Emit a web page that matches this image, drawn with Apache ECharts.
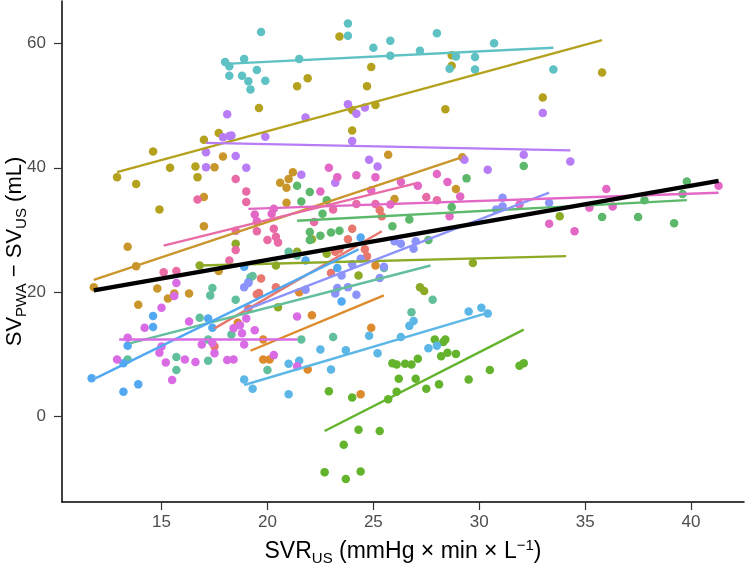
<!DOCTYPE html>
<html>
<head>
<meta charset="utf-8">
<script src="https://cdn.jsdelivr.net/npm/echarts@6/dist/echarts.min.js"></script>
<style>
  html, body { margin: 0; padding: 0; background: #fff; }
  #chart { width: 750px; height: 567px; }
</style>
</head>
<body>
<div id="chart"></div>
<script>
// points per subject, [SVR_US, SV_PWA - SV_US]
const cyanPts = [[18.0,57.0],[18.2,56.3],[18.9,57.5],[18.2,54.8],[18.8,54.8],[19.1,53.9],[19.2,52.6],[19.7,61.8],[21.5,57.5],[19.5,55.7],[19.9,54.0],[23.8,63.2],[23.8,61.2],[25.0,59.3],[25.8,60.4],[25.8,58.0],[27.2,58.8],[28.0,61.6],[28.6,55.9],[28.9,57.9],[29.8,57.8],[29.8,55.8],[30.7,60.0],[33.5,55.8]];
const olivePts = [[12.9,38.5],[13.8,37.4],[14.6,42.6],[15.4,40.0],[14.9,33.3],[16.6,40.2],[16.7,38.5],[17.0,44.5],[17.7,45.6],[19.6,49.6],[21.4,53.1],[21.9,54.4],[23.4,61.1],[24.0,46.0],[24.0,49.3],[24.9,56.2],[24.7,53.1],[25.1,50.1],[28.7,58.1],[28.7,56.4],[28.4,49.4],[33.0,51.3],[35.8,55.3]];
const purplePts = [[18.1,48.6],[17.9,44.9],[18.2,45.1],[18.3,45.2],[17.1,42.5],[18.5,41.9],[17.1,40.1],[19.0,40.0],[19.9,45.0],[21.8,48.1],[21.6,38.9],[23.8,50.2],[24.2,48.7],[24.6,49.7],[24.0,44.3],[23.2,37.6],[24.8,41.3],[25.2,40.2],[29.3,41.3],[30.4,39.7],[32.1,42.1],[33.0,48.8],[34.3,41.0]];
const goldPts = [[17.9,41.8],[17.5,40.1],[17.0,35.3],[17.0,30.6],[13.4,27.3],[13.8,24.2],[14.8,20.6],[17.7,23.4],[16.3,19.8],[15.3,19.0],[11.8,20.8],[13.9,18.0],[15.6,19.8],[20.6,37.6],[20.9,36.8],[21.0,38.2],[21.2,39.3],[20.9,34.4],[25.7,42.1],[26.0,35.0],[29.2,41.7],[28.9,36.6]];
const pinkPts = [[18.5,38.2],[19.0,36.2],[16.7,34.9],[19.0,34.5],[18.5,26.8],[18.2,25.1],[15.1,23.2],[15.7,23.4],[18.5,29.9],[20.3,30.2],[19.5,29.8],[20.4,28.9],[20.0,28.4],[20.5,28.0],[22.2,31.3],[23.1,33.3],[24.2,34.2],[25.1,34.2],[27.5,35.3],[28.0,34.8]];
const rosePts = [[19.4,32.5],[19.5,31.4],[20.3,33.4],[20.2,32.6],[22.9,40.0],[23.3,38.5],[24.2,38.8],[25.1,38.5],[22.5,36.2],[26.3,37.7],[27.1,37.1],[28.0,39.0],[28.5,37.7],[29.1,35.4],[28.6,32.2],[24.9,36.4],[25.8,34.1],[36.0,36.6],[36.3,33.8],[35.2,33.6],[33.3,31.0],[34.5,29.8],[41.3,37.1],[31.9,34.1]];
const greenPts = [[21.4,37.1],[22.0,36.1],[21.6,34.6],[22.8,34.8],[22.6,32.6],[22.0,29.7],[22.5,29.1],[23.0,29.6],[23.4,29.9],[22.0,28.4],[25.9,30.6],[26.7,31.7],[28.7,33.7],[29.4,38.3],[27.6,28.4],[32.1,40.3],[39.6,35.8],[39.8,37.8],[37.8,34.8],[35.8,32.1],[37.5,32.1],[39.2,31.1]];
const limePts = [[16.8,24.3],[18.5,27.8],[22.1,28.5],[20.4,24.3],[22.8,26.2],[24.3,22.7],[21.4,26.5],[20.5,17.6],[27.2,20.8],[27.4,20.2],[29.7,24.7],[33.8,32.2]];
const bluePts = [[11.7,6.2],[13.2,4.0],[13.9,5.2],[13.4,11.4],[14.6,16.2],[14.6,14.4],[17.2,15.8],[17.4,14.3],[18.9,24.1],[13.2,8.6],[21.8,25.1],[23.3,23.9],[19.1,21.6],[23.5,18.5],[24.4,28.8]];
const skyPts = [[18.9,6.0],[19.3,4.5],[21.0,3.6],[21.0,8.5],[21.5,9.0],[22.5,10.8],[23.0,7.6],[23.7,10.7],[24.8,13.0],[25.2,10.2],[26.3,12.8],[26.7,14.6],[26.9,15.4],[27.6,11.0],[28.0,11.4],[29.5,16.9],[30.1,17.5],[30.4,16.6]];
const periPts = [[18.9,20.8],[19.1,21.5],[21.8,20.4],[23.3,20.7],[23.2,19.8],[23.8,20.8],[24.2,19.6],[23.5,22.7],[24.0,24.5],[24.4,25.4],[25.5,24.1],[25.3,22.3],[26.0,28.2],[26.3,27.8],[27.0,28.2],[26.9,27.0],[31.1,35.2],[31.1,33.8],[30.8,33.3],[33.3,34.4]];
const tealPts = [[15.7,9.6],[15.7,7.5],[17.3,19.5],[16.8,15.9],[18.5,18.8],[17.2,9.0],[13.4,9.2],[17.2,12.4],[18.3,13.2],[17.4,20.7],[19.2,22.4],[21.0,26.5],[21.4,25.9],[19.3,22.6],[25.5,23.9],[26.8,16.8],[27.8,18.8],[20.0,7.5],[21.6,12.4],[23.1,12.8]];
const salmonPts = [[23.8,28.5],[24.0,30.2],[24.6,26.9],[24.7,25.8],[25.3,33.2],[25.4,32.2],[23.0,23.1],[19.7,22.2],[20.4,20.8],[23.2,26.5],[23.4,26.9],[19.6,19.9],[19.1,17.4],[19.5,19.7],[17.5,11.3]];
const orangePts = [[22.1,16.3],[19.8,12.4],[19.8,9.2],[20.1,9.2],[21.9,7.6],[24.9,14.3],[24.4,3.6],[25.1,24.3],[18.6,15.1],[21.5,20.0]];
const magentaPts = [[15.6,19.4],[15.0,17.5],[14.2,14.3],[13.4,12.7],[12.9,9.2],[14.9,10.3],[15.0,11.3],[15.2,8.7],[15.5,5.9],[16.1,9.2],[16.6,8.8],[16.3,15.3],[16.9,11.6],[17.4,11.9],[17.5,10.2],[18.1,9.1],[18.4,9.2],[18.4,14.2],[18.7,14.7],[18.8,13.4],[18.9,11.6],[19.0,15.8],[19.4,13.9],[15.7,21.5],[21.4,16.1],[20.3,9.9],[21.4,8.1]];
const grassPts = [[22.9,4.1],[24.0,3.1],[24.3,-2.1],[23.6,-4.5],[25.3,-2.3],[22.7,-8.9],[23.7,-10.0],[24.4,-8.8],[25.9,8.6],[26.1,8.4],[26.5,8.5],[26.8,8.4],[27.1,9.3],[26.2,6.1],[26.1,4.0],[25.7,2.8],[27.0,6.1],[27.5,4.5],[28.1,5.2],[27.9,12.4],[28.3,12.0],[28.4,12.4],[28.2,9.7],[28.5,10.3],[28.9,10.1],[29.5,6.0],[30.5,7.5],[31.9,8.2],[32.1,8.6]];

// fitted lines per subject, [x1, y1, x2, y2]
const cyanFit = [18.0,56.7,33.5,59.3];
const oliveFit = [12.9,39.3,35.8,60.5];
const purpleFit = [17.1,44.0,34.3,42.8];
const goldFit = [11.8,22.0,29.2,41.7];
const pinkFit = [15.1,27.5,27.0,37.5];
const roseFit = [19.1,33.4,41.3,36.0];
const greenFit = [21.4,31.5,39.8,34.8];
const limeFit = [16.8,24.3,34.1,25.8];
const blueFit = [11.9,6.2,24.3,26.9];
const skyFit = [18.9,5.1,30.4,16.7];
const periFit = [18.9,17.1,33.3,36.0];
const tealFit = [13.5,11.8,27.7,24.3];
const salmonFit = [17.5,14.2,25.4,29.8];
const orangeFit = [19.2,10.6,25.5,19.5];
const magentaFit = [13.0,12.4,21.4,12.4];
const grassFit = [22.7,-2.3,32.1,14.0];
const overallFit = [11.8,20.3,41.3,37.9];

const xTicks = [15, 20, 25, 30, 35, 40];
const yTicks = [0, 20, 40, 60];

const subjects = [
  { pts: salmonPts, fit: salmonFit, color: '#E8776D' },
  { pts: orangePts, fit: orangeFit, color: '#DC8A2C' },
  { pts: goldPts, fit: goldFit, color: '#C9962B' },
  { pts: olivePts, fit: oliveFit, color: '#B4A21F' },
  { pts: limePts, fit: limeFit, color: '#8DAA26' },
  { pts: grassPts, fit: grassFit, color: '#63B42C' },
  { pts: greenPts, fit: greenFit, color: '#5CB96B' },
  { pts: tealPts, fit: tealFit, color: '#62BF9B' },
  { pts: cyanPts, fit: cyanFit, color: '#5EC1C3' },
  { pts: skyPts, fit: skyFit, color: '#5CB7E6' },
  { pts: bluePts, fit: blueFit, color: '#52A9F2' },
  { pts: periPts, fit: periFit, color: '#8C93FA' },
  { pts: purplePts, fit: purpleFit, color: '#B77CF6' },
  { pts: magentaPts, fit: magentaFit, color: '#D96CE4' },
  { pts: rosePts, fit: roseFit, color: '#E368C6' },
  { pts: pinkPts, fit: pinkFit, color: '#E86BA6' }
];

const font = 'Liberation Sans, Arial, sans-serif';

let series = [];
// points first (like geom_point), then the fitted lines on top
subjects.forEach(s => {
  series.push({
    type: 'scatter',
    data: s.pts,
    symbolSize: 8.5,
    itemStyle: { color: s.color, opacity: 1 },
    z: 2
  });
});
subjects.forEach(s => {
  series.push({
    type: 'line',
    data: [[s.fit[0], s.fit[1]], [s.fit[2], s.fit[3]]],
    showSymbol: false,
    lineStyle: { color: s.color, width: 2.4 },
    z: 3
  });
});
series.push({
  type: 'line',
  data: [[overallFit[0], overallFit[1]], [overallFit[2], overallFit[3]]],
  showSymbol: false,
  lineStyle: { color: '#000', width: 4.5 },
  z: 4
});

let chart = echarts.init(document.getElementById('chart'));

let option = {
  animation: false,
  grid: { left: 62, right: 6, top: 1, bottom: 65, containLabel: false, outerBoundsMode: 'none' },
  xAxis: {
    type: 'value',
    min: 10.3,
    max: 42.5,
    name: '{a|SVR}{sub|US}{a| (mmHg × min × L}{sup|−1}{a|)}',
    nameLocation: 'middle',
    nameGap: 36,
    nameMoveOverlap: false,
    nameTextStyle: {
      rich: {
        a: { fontFamily: font, fontSize: 23, color: '#000', lineHeight: 28 },
        sub: { fontFamily: font, fontSize: 15, color: '#000', verticalAlign: 'bottom', lineHeight: 15 },
        sup: { fontFamily: font, fontSize: 15, color: '#000', verticalAlign: 'top', lineHeight: 15 }
      }
    },
    axisLine: { show: true, onZero: false, lineStyle: { color: '#000', width: 1.5 } },
    axisTick: { show: true, length: 8, customValues: xTicks, lineStyle: { color: '#333', width: 1.2 } },
    axisLabel: { customValues: xTicks, fontFamily: font, fontSize: 17, color: '#4D4D4D', margin: 12 },
    splitLine: { show: false }
  },
  yAxis: {
    type: 'value',
    min: -13.7,
    max: 66.8,
    name: '{a|SV}{sub|PWA}{a| − SV}{sub|US}{a| (mL)}',
    nameLocation: 'middle',
    nameRotate: 90,
    nameGap: 33,
    nameMoveOverlap: false,
    nameTextStyle: {
      rich: {
        a: { fontFamily: font, fontSize: 22, color: '#000', lineHeight: 28 },
        sub: { fontFamily: font, fontSize: 15, color: '#000', verticalAlign: 'bottom', lineHeight: 15 }
      }
    },
    axisLine: { show: true, onZero: false, lineStyle: { color: '#000', width: 1.5 } },
    axisTick: { show: true, length: 8, customValues: yTicks, lineStyle: { color: '#333', width: 1.2 } },
    axisLabel: { customValues: yTicks, fontFamily: font, fontSize: 17, color: '#4D4D4D', margin: 16 },
    splitLine: { show: false }
  },
  series: series
};

chart.setOption(option);
</script>
</body>
</html>
